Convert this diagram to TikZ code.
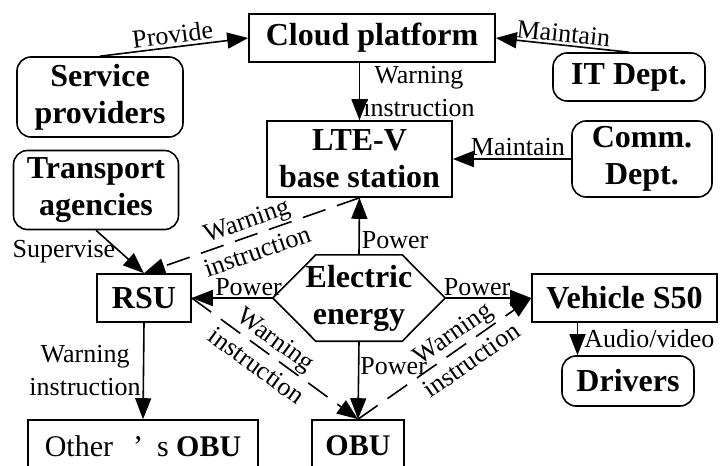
\documentclass[tikz,border=0pt]{standalone}
\usepackage{fontspec}
\setmainfont{Liberation Serif}
\usetikzlibrary{arrows.meta}

\begin{document}
\begin{tikzpicture}[x=1pt,y=1pt]
			\tikzstyle{every node}+=[inner sep=0pt]
			\tikzstyle{unit}=[draw, line width=1.6pt, align=center, font=\fontsize{32}{37}\selectfont\bfseries]
			\tikzstyle{party}=[unit, rounded corners=14pt]
			\tikzstyle{link}=[line width=1.6pt, -{Triangle[length=21pt,width=16pt]}]
			\tikzstyle{warn}=[link, dash pattern=on 24pt off 12pt]
			\tikzstyle{lbl}=[align=center, font=\fontsize{26}{33}\selectfont]
			\useasboundingbox (0,0) rectangle (721,-466);
			\clip (0,0) rectangle (721,-466);
			\node [unit, minimum width=246pt, minimum height=48pt] (cloud) at (372,-38) {Cloud platform};
			\node [party, minimum width=166pt, minimum height=80pt] (prov) at (100,-97) {Service\\providers};
			\node [party, minimum width=152pt, minimum height=48pt] (itdept) at (629,-77) {IT Dept.};
			\node [unit, minimum width=185pt, minimum height=76pt] (ltev) at (359.5,-159) {LTE-V\\base station};
			\node [party, minimum width=140pt, minimum height=76pt] (comm) at (642,-159) {Comm.\\Dept.};
			\node [party, minimum width=165pt, minimum height=79pt] (trans) at (96,-190) {Transport\\agencies};
			\node [unit, minimum width=94pt, minimum height=48pt] (rsu) at (144,-298) {RSU};
			\node [minimum width=172pt, minimum height=86pt, align=center, font=\fontsize{32}{37}\selectfont\bfseries] (energy) at (359,-298) {Electric\\energy};
			\draw [line width=1.6pt] (energy.west) -- ([xshift=43pt]energy.north west) -- ([xshift=-43pt]energy.north east) -- (energy.east) -- ([xshift=-43pt]energy.south east) -- ([xshift=43pt]energy.south west) -- cycle;
			\node [unit, minimum width=185pt, minimum height=48pt] (vehicle) at (624.5,-298) {Vehicle S50};
			\node [party, minimum width=132pt, minimum height=50pt] (drivers) at (628,-381) {Drivers};
			\node [unit, minimum width=230pt, minimum height=52pt, font=\fontsize{30}{34}\selectfont] (other) at (143,-446) {Other\hspace{20pt}’\hspace{14pt}s \textbf{OBU}};
			\node [unit, minimum width=92pt, minimum height=52pt, font=\fontsize{30}{34}\selectfont\bfseries] (obu) at (358,-446) {OBU};
			\draw [link] (prov.north) -- (cloud.west) node [lbl, midway, sloped, above=3pt] {Provide};
			\draw [link] (itdept.north) -- (cloud.east) node [lbl, midway, sloped, above=2pt] {Maintain};
			\draw [link] (ltev.north |- cloud.south) -- (ltev.north) node [lbl, midway, right=3pt] {Warning\\instruction};
			\draw [link] (comm.west) -- (ltev.east) node [lbl, pos=0.45, above=2pt] {Maintain};
			\draw [link] (trans.south) -- (rsu.north) node [lbl, midway, left=4pt] {Supervise};
			\draw [link] (energy.north) -- (ltev.south) node [lbl, pos=0.25, right=2pt] {Power};
			\draw [link] (energy.west) -- (rsu.east) node [lbl, pos=0.3, above=1pt] {Power};
			\draw [link] (energy.east) -- (vehicle.west) node [lbl, pos=0.37, above=1pt] {Power};
			\draw [link] (energy.south) -- (obu.north) node [lbl, pos=0.32, right=1pt] {Power};
			\draw [warn] (ltev.south) -- (rsu.north) node [lbl, midway, sloped] {Warning\\instruction};
			\draw [warn] (rsu.east) -- (obu.north) node [lbl, pos=0.45, sloped] {Warning\\instruction};
			\draw [warn] (obu.north) -- (vehicle.west) node [lbl, pos=0.6, sloped] {Warning\\instruction};
			\draw [link] (rsu.south) -- (other.north) node [lbl, midway, left=2pt] {Warning\\instruction};
			\draw [link] ([xshift=-47pt]vehicle.south) -- ([xshift=-47pt]vehicle.south |- drivers.north) node [lbl, midway, right=6pt] {Audio/video};
		\end{tikzpicture}
\end{document}
